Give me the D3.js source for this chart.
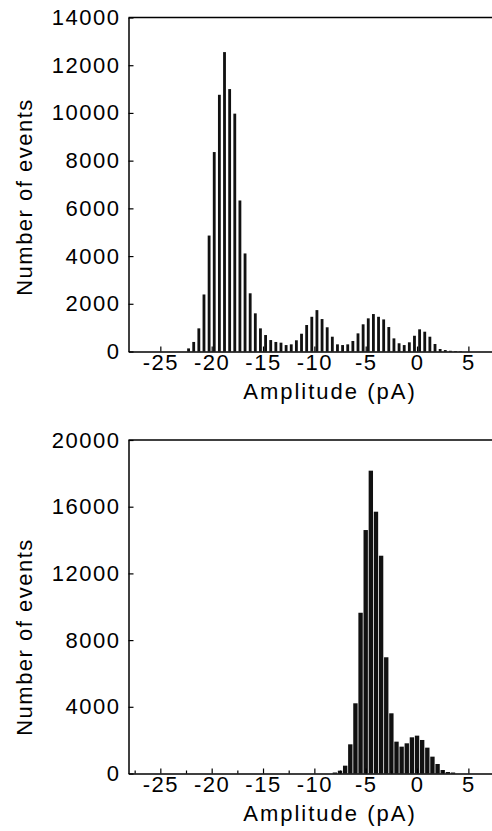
<!DOCTYPE html>
<html>
<head>
<meta charset="utf-8">
<script src="https://d3js.org/d3.v7.min.js"></script>
<style>
  body { margin: 0; background: #fff; }
  svg { display: block; }
  text { font-family: "Liberation Sans", Arial, Helvetica, sans-serif; fill: #000; }
</style>
</head>
<body>
<svg width="492" height="831" id="mainsvg"></svg>
<script>
// bin centres (pA) and counts
const ampTop = [-22.25, -21.75, -21.25, -20.75, -20.25, -19.75, -19.25, -18.75, -18.25, -17.75,
  -17.25, -16.75, -16.25, -15.75, -15.25, -14.75, -14.25, -13.75, -13.25, -12.75,
  -12.25, -11.75, -11.25, -10.75, -10.25, -9.75, -9.25, -8.75, -8.25, -7.75,
  -7.25, -6.75, -6.25, -5.75, -5.25, -4.75, -4.25, -3.75, -3.25, -2.75,
  -2.25, -1.75, -1.25, -0.75, -0.25, 0.25, 0.75, 1.25, 1.75, 2.25,
  2.75, 3.25, 3.75, 4.25];
const countTop = [130, 400, 970, 2390, 4860, 8360, 10760, 12550, 11000, 9970,
  6330, 4110, 2440, 1600, 970, 690, 480, 400, 370, 270,
  300, 470, 745, 1110, 1455, 1735, 1360, 1015, 620, 300,
  270, 300, 440, 760, 1140, 1390, 1570, 1455, 1345, 1025,
  550, 345, 270, 385, 660, 930, 830, 620, 315, 105,
  60, 30, 20, 15];

const ampBottom = [-8.0, -7.5, -7.0, -6.5, -6.0, -5.5, -5.0, -4.5, -4.0, -3.5,
  -3.0, -2.5, -2.0, -1.5, -1.0, -0.5, 0.0, 0.5, 1.0, 1.5,
  2.0, 2.5, 3.0, 3.5];
const countBottom = [60, 170, 470, 1750, 4210, 9640, 14600, 18160, 15700, 13060,
  6970, 3610, 1910, 1610, 1810, 2170, 2270, 2010, 1550, 1010,
  570, 210, 90, 60];

const xTicks = [-25, -20, -15, -10, -5, 0, 5];
const xMinorTicks = [-27.5, -22.5, -17.5, -12.5, -7.5, -2.5, 2.5];
const yTicksTop = [0, 2000, 4000, 6000, 8000, 10000, 12000, 14000];
const yTicksBottom = [0, 4000, 8000, 12000, 16000, 20000];

const svg = d3.select('#mainsvg');
const left = 128.5, right = 492;
const plain = d => String(d);   // hyphen minus, no thousands comma

function drawPanel(opt) {
  const g = svg.append('g');

  const xScale = d3.scaleLinear().domain([-28.1, 7.3]).range([left, right]);
  const yScale = d3.scaleLinear().domain([0, opt.yMax]).range([opt.bottom, opt.top]);

  const binPx = xScale(0.5) - xScale(0);
  const barW = binPx * opt.barFrac;

  g.selectAll('rect').data(opt.amp).join('rect')
    .attr('x', d => xScale(d) - barW / 2)
    .attr('y', (d, i) => yScale(opt.count[i]))
    .attr('width', barW)
    .attr('height', (d, i) => yScale(0) - yScale(opt.count[i]))
    .attr('fill', '#111');

  // top line of the frame
  g.append('line')
    .attr('x1', left).attr('x2', right)
    .attr('y1', yScale(opt.yMax)).attr('y2', yScale(opt.yMax))
    .attr('stroke', '#000').attr('stroke-width', 1.5);

  if (opt.minor) {
    g.append('g')
      .attr('transform', `translate(0, ${opt.bottom})`)
      .call(d3.axisBottom(xScale).tickValues(xMinorTicks).tickSize(-3).tickSizeOuter(0).tickFormat(''))
      .call(a => a.select('.domain').remove())
      .selectAll('line').attr('stroke-width', 1.2);
  }

  const xAxis = g.append('g')
    .attr('transform', `translate(0, ${opt.bottom})`)
    .call(d3.axisBottom(xScale).tickValues(xTicks).tickFormat(plain)
      .tickSize(-5).tickSizeOuter(0).tickPadding(3));
  xAxis.select('.domain').attr('stroke-width', 1.5);
  xAxis.selectAll('.tick line').attr('stroke-width', 1.2);
  xAxis.selectAll('.tick text')
    .attr('font-size', '22px').attr('letter-spacing', '1.5px')
    .attr('font-family', '"Liberation Sans", Arial, sans-serif');

  const yAxis = g.append('g')
    .attr('transform', `translate(${left}, 0)`)
    .call(d3.axisLeft(yScale).tickValues(opt.yTicks).tickFormat(plain)
      .tickSize(-5).tickSizeOuter(0).tickPadding(8));
  yAxis.select('.domain').attr('stroke-width', 1.5);
  yAxis.selectAll('.tick line').attr('stroke-width', 1.2);
  yAxis.selectAll('.tick text')
    .attr('font-size', '22px').attr('letter-spacing', '1.5px')
    .attr('font-family', '"Liberation Sans", Arial, sans-serif');

  g.append('text')
    .text('Amplitude (pA)')
    .attr('x', 330).attr('y', opt.bottom + 47)
    .attr('text-anchor', 'middle')
    .attr('font-size', '22px').attr('letter-spacing', '2px');

  g.append('text')
    .text('Number of events')
    .attr('transform', `translate(32, ${opt.labelY}) rotate(-90)`)
    .attr('text-anchor', 'middle')
    .attr('font-size', '22px').attr('letter-spacing', '1.5px');
}

drawPanel({amp: ampTop, count: countTop, yMax: 14000, yTicks: yTicksTop,
  top: 17.5, bottom: 351.5, barFrac: 0.55, minor: false, labelY: 197});
drawPanel({amp: ampBottom, count: countBottom, yMax: 20000, yTicks: yTicksBottom,
  top: 440, bottom: 773.5, barFrac: 0.85, minor: true, labelY: 637});
</script>
</body>
</html>
